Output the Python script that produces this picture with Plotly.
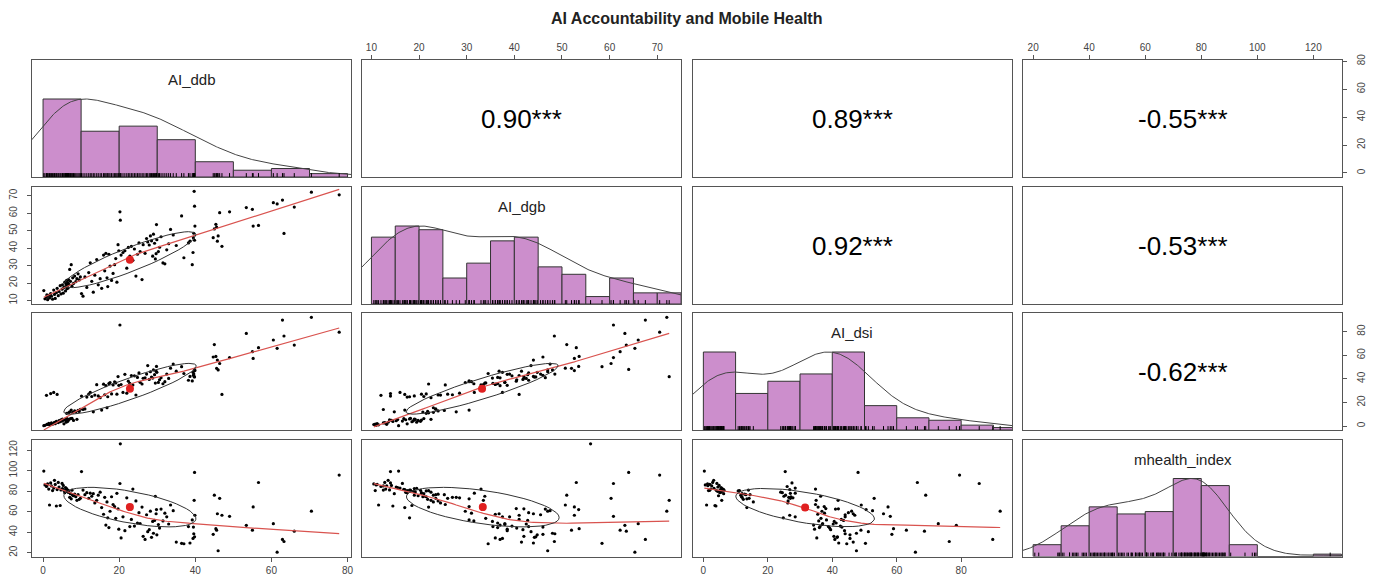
import numpy as np
import plotly.graph_objects as go

# ---------------- data ----------------
var_names = ["AI_ddb", "AI_dgb", "AI_dsi", "mhealth_index"]
title_text = "AI Accountability and Mobile Health"

AI_ddb = [0.2, 0.5, 0.9, 1.2, 1.5, 1.7, 2.0, 2.2, 2.5, 2.8, 3.0, 3.2, 3.5, 3.7, 4.0, 4.2, 4.5, 4.7, 5.0, 5.1,
          5.3, 5.5, 5.7, 5.9, 6.0, 6.1, 6.2, 6.3, 6.4, 6.5, 6.6, 6.7, 6.8, 7.0, 7.2, 7.4, 7.6, 7.8, 8.0, 8.3,
          8.6, 8.9, 9.2, 9.5, 9.8, 1.0,
          10.1, 10.5, 11.0, 11.5, 12.0, 12.4, 12.8, 13.2, 13.6, 14.1, 14.5, 15.0, 15.4, 15.9, 16.2, 16.5, 16.8,
          17.0, 17.3, 17.6, 18.0, 18.4, 18.8, 19.1, 19.4, 19.7, 19.9,
          20.2, 20.3, 20.5, 21.0, 21.5, 22.0, 22.4, 22.8, 23.2, 23.6, 24.0, 24.4, 24.8, 25.2, 25.5, 26.0, 26.3,
          26.8, 27.2, 27.5, 27.9, 28.2, 28.5, 28.8, 29.0, 29.3, 29.5, 29.7, 29.8, 29.9,
          39.8, 39.7, 39.9, 39.6, 39.5, 39.8, 39.4, 39.2, 38.6, 38.2, 37.0, 36.4, 35.0, 34.2, 33.5, 33.0, 32.5,
          32.0, 31.5, 31.0, 30.6, 30.3,
          44.7, 45.0, 45.4, 45.6, 45.8, 46.0, 46.4, 47.0, 49.0, 53.4, 55.0, 55.2, 56.6, 60.5, 61.5, 62.9, 63.3,
          66.0, 70.5, 77.8]

AI_dgb = [15.7, 11.0, 12.0, 10.5, 13.0, 11.5, 14.0, 12.5, 10.8, 16.0, 13.5, 11.2, 14.5, 17.0, 12.8, 15.2, 18.5,
          13.8, 16.5, 19.0, 14.2, 17.5, 20.5, 15.5, 18.0, 19.5, 21.5, 16.8, 18.8, 20.3, 17.2, 22.0, 19.2, 27.8,
          21.0, 30.5, 18.2, 23.0, 19.8, 24.0, 20.8, 22.5, 25.3, 21.8, 23.5, 13.2,
          14.0, 12.5, 23.5, 17.5, 26.0, 31.6, 21.0, 14.8, 24.5, 33.5, 19.0, 22.5, 17.0, 36.0, 27.0, 37.0, 23.0,
          18.0, 36.5, 29.7, 21.5, 25.5, 30.5, 34.0, 20.5, 42.0, 38.5,
          60.8, 56.0, 36.0, 37.5, 38.5, 28.5, 40.4, 35.5, 41.0, 33.0, 39.5, 24.0, 36.5, 43.0, 38.0, 22.0, 42.0,
          37.0, 45.5, 43.5, 41.8, 47.0, 44.2, 35.4, 48.0, 42.8, 33.8, 36.8, 53.5, 44.8,
          64.0, 72.5, 52.6, 48.5, 46.0, 44.5, 37.5, 30.5, 44.0, 43.0, 34.5, 58.4, 41.5, 47.5, 50.7, 42.5, 39.0,
          31.0, 31.5, 46.5, 40.5, 38.0,
          46.0, 51.0, 53.6, 52.0, 44.0, 47.0, 60.3, 41.0, 60.8, 63.2, 62.2, 52.6, 53.0, 66.0, 65.3, 67.5, 48.4,
          63.5, 72.0, 70.5]

AI_dsi = [0.3, 0.6, 26.0, 1.3, 2.3, 1.0, 27.5, 2.6, 1.6, 28.5, 3.2, 2.0, 3.9, 26.8, 2.9, 4.5, 3.6, 5.2, 4.2, 5.8,
          4.9, 1.9, 5.1, 5.5, 6.0, 3.3, 10.8, 6.2, 4.4, 4.0, 5.3, 11.2, 5.6, 12.0, 6.3, 13.5, 6.4, 11.6, 4.7,
          12.8, 11.9, 5.7, 13.2, 12.4, 14.2, 1.4,
          25.4, 14.0, 14.5, 24.5, 27.0, 28.5, 25.0, 12.0, 26.2, 35.0, 25.5, 24.0, 13.5, 35.5, 26.5, 34.2, 15.5,
          24.8, 36.0, 36.8, 27.2, 34.8, 37.5, 36.5, 27.0, 41.9, 34.5,
          85.6, None, 35.2, 28.5, 43.8, 27.8, 38.0, 36.2, 42.8, 34.8, 42.5, 26.3, 41.2, 45.0, 37.0, 35.6, 40.5,
          40.8, 44.0, 51.2, 39.5, 46.0, 41.5, 40.6, 47.5, 43.5, 36.4, 46.5, 50.5, 45.5,
          48.0, 41.8, 47.0, 44.0, 43.0, 41.6, 45.5, 38.2, 42.0, 38.8, 44.5, 50.3, 46.5, 52.5, 49.0, 40.3, 44.0,
          37.6, 35.8, 41.0, 39.2, 36.9,
          58.5, 69.0, 59.0, 48.9, 55.9, 47.5, 53.0, 26.8, 58.0, 78.5, 63.0, 57.3, 66.4, 72.9, 65.8, 89.8, 76.3,
          68.6, 92.1, 79.5]

mhealth_index = [99.5, 86.0, 84.5, 87.0, 82.0, 66.5, 88.0, 85.0, 80.5, 83.0, 90.5, 86.5, 65.5, 81.5, 88.5, 84.0,
                 66.0, 81.2, 87.5, 82.5, 85.5, 80.6, 78.5, 83.5, 81.0, 82.8, 80.2, 81.8, 79.8, 80.8, 78.8, 80.4,
                 79.2, 74.0, 77.5, 72.5, 80.9, 76.0, 75.5, 77.0, 74.5, 71.0, 76.5, 72.0, 73.0, 85.2,
                 99.0, 81.0, 76.5, 78.5, 73.0, 78.0, 75.0, 77.5, 68.5, 71.0, 76.0, 79.0, 64.0, 57.5, 74.0, 47.0,
                 69.5, 54.0, 44.5, 60.4, 74.5, 67.0, 65.0, 53.5, 77.8, 62.8, 43.0,
                 87.4, 126.0, 34.5, 55.0, 41.5, 73.5, 63.0, 45.5, 52.5, 82.0, 46.0, 70.5, 49.0, 59.0, 48.5, 64.5,
                 36.0, 33.0, 57.0, 40.5, 42.5, 60.5, 35.0, 50.5, 39.0, 51.5, 75.0, 58.0, 62.0, 37.5,
                 98.2, 71.0, 56.5, 38.5, 45.0, 35.5, 34.0, 52.0, 29.5, 45.5, 28.8, 29.2, 30.4, 61.0, 66.5, 48.0,
                 55.0, 58.5, 51.0, 62.5, 44.0, 47.5,
                 38.0, 76.0, 43.5, 42.0, 58.0, 22.0, 73.0, 56.5, 55.5, 46.7, 42.0, 64.6, 88.4, 48.3, 20.6, 33.0,
                 31.0, 41.0, 60.5, 95.6]

hist_breaks = [
    [0, 10, 20, 30, 40, 50, 60, 70, 80],
    [10, 15, 20, 25, 30, 35, 40, 45, 50, 55, 60, 65, 70, 75],
    [0, 10, 20, 30, 40, 50, 60, 70, 80, 90, 100],
    [20, 30, 40, 50, 60, 70, 80, 90, 100, 110, 120, 130],
]
tick_values = [
    [0, 20, 40, 60, 80],
    [10, 20, 30, 40, 50, 60, 70],
    [0, 20, 40, 60, 80],
    [20, 40, 60, 80, 100, 120],
]
# correlations printed in the upper panels (row, col, r)
cor_rows = [0, 0, 0, 1, 1, 2]
cor_cols = [1, 2, 3, 2, 3, 3]
cor_vals = [0.90, 0.89, -0.55, 0.92, -0.53, -0.62]
cor_stars = ["***", "***", "***", "***", "***", "***"]

# ---------------- helpers ----------------
cols = [np.array(v, dtype=float) for v in (AI_ddb, AI_dgb, AI_dsi, mhealth_index)]


def r_hist(x, breaks):
    b = np.asarray(breaks, float)
    idx = np.searchsorted(b, x, side="left") - 1
    idx[x == b[0]] = 0
    counts = np.bincount(idx, minlength=len(b) - 1)[: len(b) - 1]
    return b, counts


def r_density(x, adjust=1.2):
    n = len(x)
    q75, q25 = np.percentile(x, [75, 25])
    h = (q75 - q25) / 1.34
    bw = 1.06 * min(np.std(x, ddof=1), h) * n ** -0.2 * adjust
    grid = np.linspace(x.min() - 3 * bw, x.max() + 3 * bw, 512)
    d = np.exp(-0.5 * ((grid[:, None] - x[None, :]) / bw) ** 2).sum(axis=1)
    return grid, d / d.max()


def lowess(x, y, f=2 / 3, iters=3):
    o = np.argsort(x, kind="mergesort")
    x = x[o]
    y = y[o]
    n = len(x)
    ns = max(min(int(round(f * n)), n), 2)
    rw = np.ones(n)
    ys = np.zeros(n)
    for it in range(iters + 1):
        for i in range(n):
            d = np.abs(x - x[i])
            hh = max(np.sort(d)[ns - 1], 1e-12)
            u = d / hh
            w = np.where(u < 1, (1 - u ** 3) ** 3, 0.0) * rw
            sw = w.sum()
            xm = (w * x).sum() / sw
            ym = (w * y).sum() / sw
            sxx = (w * (x - xm) ** 2).sum()
            b = (w * (x - xm) * (y - ym)).sum() / sxx if sxx > 1e-12 else 0.0
            ys[i] = ym + b * (x[i] - xm)
        if it == iters:
            break
        res = y - ys
        cmad = 6 * np.median(np.abs(res))
        if cmad <= 0:
            break
        u = res / cmad
        rw = np.where(np.abs(u) < 1, (1 - u ** 2) ** 2, 0.0)
    return x, ys


def ellipse(xm, ym, xs, ys, r, segments=51):
    ang = np.arange(segments + 1) * 2 * np.pi / segments
    uc = np.column_stack([np.cos(ang), np.sin(ang)])
    th = np.sign(r) / np.sqrt(2) if abs(r) > 0 else 1 / np.sqrt(2)
    shape = np.diag([np.sqrt(1 + r), np.sqrt(1 - r)]) @ np.array([[th, th], [-th, th]])
    e = uc @ shape
    return e[:, 0] * xs + xm, e[:, 1] * ys + ym


ranges = []
for v in cols:
    vv = v[np.isfinite(v)]
    lo, hi = vv.min(), vv.max()
    pad = 0.04 * (hi - lo)
    ranges.append([lo - pad, hi + pad])

# ---------------- layout geometry ----------------
W, H = 1373, 576
col_px = [(32, 351), (362, 681), (692.5, 1012), (1023, 1342)]
row_px = [(60, 177), (187, 304), (313, 430), (439.5, 556.5)]

BOX = "#555555"
FONT = "Liberation Sans, Arial, sans-serif"
TICKFONT = dict(family=FONT, size=10, color="#444444")
HIST_FILL = "#CC8ECC"


def ids(i, j):
    k = i * 4 + j + 1
    return ("x" if k == 1 else f"x{k}"), ("y" if k == 1 else f"y{k}"), k


fig = go.Figure()
layout = dict(
    width=W, height=H, margin=dict(l=0, r=0, t=0, b=0, autoexpand=False),
    paper_bgcolor="white", plot_bgcolor="white", showlegend=False,
)
annotations = []

for i in range(4):
    for j in range(4):
        xid, yid, k = ids(i, j)
        x0, x1 = col_px[j]
        y0, y1 = row_px[i]
        xa = dict(domain=[x0 / W, x1 / W], range=ranges[j], showgrid=False, zeroline=False,
                  showline=True, mirror=True, linecolor=BOX, linewidth=1, ticks="",
                  showticklabels=False, anchor=yid, fixedrange=True)
        yr = [0, 1.5] if i == j else ranges[i]
        ya = dict(domain=[1 - y1 / H, 1 - y0 / H], range=yr, showgrid=False, zeroline=False,
                  showline=True, mirror=True, linecolor=BOX, linewidth=1, ticks="",
                  showticklabels=False, anchor=xid, fixedrange=True)
        tick_common = dict(ticks="outside", ticklen=4, tickcolor=BOX, tickwidth=1,
                           showticklabels=True, tickfont=TICKFONT)
        if i == 0 and j in (1, 3):
            xa.update(side="top", tickvals=tick_values[j], **tick_common)
        if i == 3 and j in (0, 2):
            xa.update(side="bottom", tickvals=tick_values[j], **tick_common)
        if j == 0 and i in (1, 3):
            ya.update(side="left", tickvals=tick_values[i], tickangle=-90, ticklabelstandoff=6,
                      **tick_common)
        if j == 3 and i in (0, 2):
            ya.update(side="right", tickvals=tick_values[i], tickangle=-90, ticklabelstandoff=6,
                      **tick_common)
        layout["xaxis" if k == 1 else f"xaxis{k}"] = xa
        layout["yaxis" if k == 1 else f"yaxis{k}"] = ya

        if i == j:
            v = cols[j][np.isfinite(cols[j])]
            b, counts = r_hist(v, hist_breaks[j])
            hgt = counts / counts.max()
            fig.add_trace(go.Bar(x=(b[:-1] + b[1:]) / 2, y=hgt, width=np.diff(b),
                                 marker=dict(color=HIST_FILL, line=dict(color="#333333", width=1)),
                                 xaxis=xid, yaxis=yid, hoverinfo="skip"))
            gx, gy = r_density(v)
            fig.add_trace(go.Scatter(x=gx, y=gy, mode="lines", line=dict(color="#444444", width=1),
                                     xaxis=xid, yaxis=yid, hoverinfo="skip"))
            rx, ry = [], []
            for val in v:
                rx += [val, val, None]
                ry += [0, 0.05, None]
            fig.add_trace(go.Scatter(x=rx, y=ry, mode="lines", line=dict(color="black", width=1),
                                     xaxis=xid, yaxis=yid, hoverinfo="skip"))
            annotations.append(dict(text=var_names[j], x=0.5, y=0.833, xref=f"{xid} domain",
                                    yref=f"{yid} domain", showarrow=False, xanchor="center",
                                    yanchor="middle",
                                    font=dict(family=FONT, size=15, color="#222222")))
        elif i > j:
            xv, yv = cols[j], cols[i]
            ok = np.isfinite(xv) & np.isfinite(yv)
            xv, yv = xv[ok], yv[ok]
            fig.add_trace(go.Scatter(x=xv, y=yv, mode="markers",
                                     marker=dict(color="black", size=3.2, line=dict(width=0)),
                                     xaxis=xid, yaxis=yid, hoverinfo="skip"))
            lx, ly = lowess(xv, yv)
            fig.add_trace(go.Scatter(x=lx, y=ly, mode="lines", line=dict(color="#d9534f", width=1.2),
                                     xaxis=xid, yaxis=yid, hoverinfo="skip"))
            r = np.corrcoef(xv, yv)[0, 1]
            ex, ey = ellipse(xv.mean(), yv.mean(), xv.std(ddof=1), yv.std(ddof=1), r)
            fig.add_trace(go.Scatter(x=[xv.mean()], y=[yv.mean()], mode="markers",
                                     marker=dict(color="#e02020", size=8),
                                     xaxis=xid, yaxis=yid, hoverinfo="skip"))
            fig.add_trace(go.Scatter(x=ex, y=ey, mode="lines", line=dict(color="#333333", width=1),
                                     xaxis=xid, yaxis=yid, hoverinfo="skip"))
        else:
            # upper panel: an invisible trace so that the axes (box, ticks) are drawn
            fig.add_trace(go.Scatter(x=[np.mean(ranges[j])], y=[np.mean(ranges[i])], mode="markers",
                                     marker=dict(opacity=0, size=1), xaxis=xid, yaxis=yid,
                                     hoverinfo="skip"))

for rr, cc, val, st in zip(cor_rows, cor_cols, cor_vals, cor_stars):
    xid, yid, k = ids(rr, cc)
    annotations.append(dict(text=f"{val:.2f}{st}", x=0.5, y=0.5, xref=f"{xid} domain",
                            yref=f"{yid} domain", showarrow=False, xanchor="center", yanchor="middle",
                            font=dict(family=FONT, size=26, color="black")))

annotations.append(dict(text=f"<b>{title_text}</b>", x=686.5 / W, y=1 - 18 / H, xref="paper", yref="paper",
                        showarrow=False, xanchor="center", yanchor="middle",
                        font=dict(family=FONT, size=16, color="#222222")))
layout["annotations"] = annotations
fig.update_layout(**layout)
fig.write_html("out.html", config={"displayModeBar": False},
               post_script="document.body.style.margin='0px';")
